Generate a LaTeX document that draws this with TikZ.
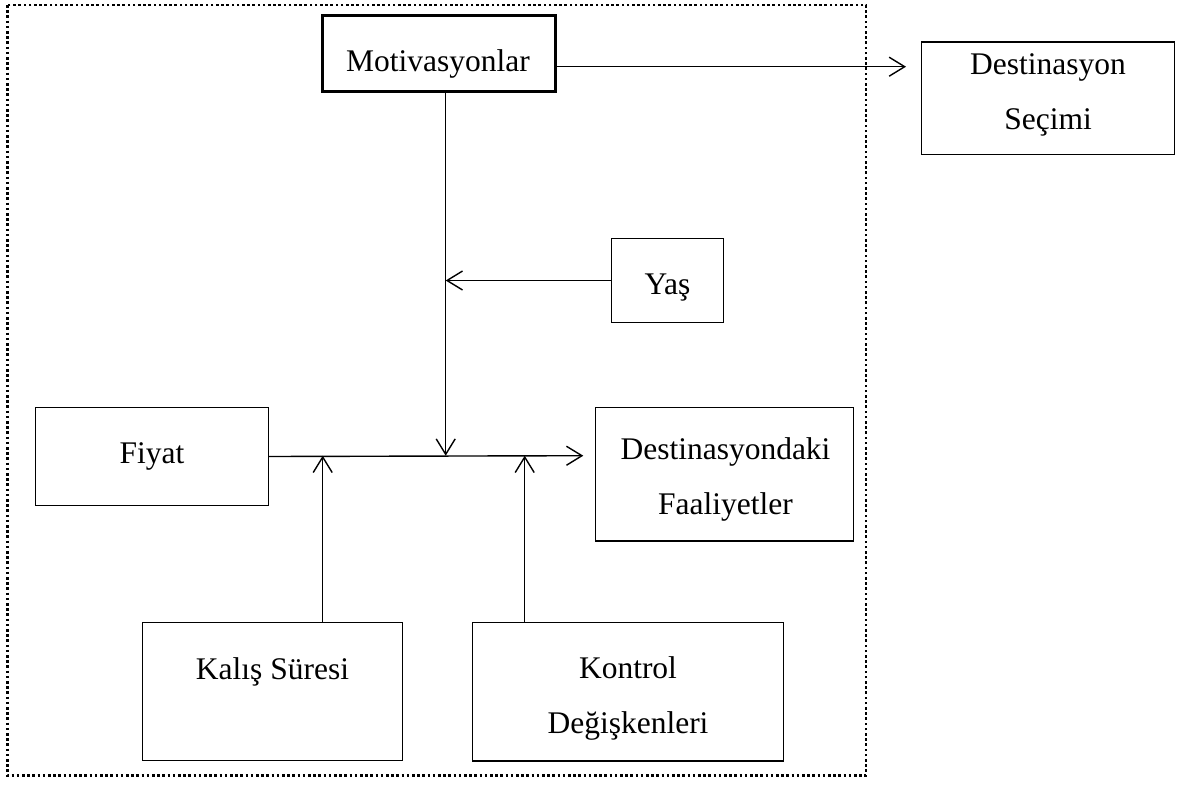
\documentclass[tikz,border=0pt]{standalone}
\usepackage{fontspec}
\setmainfont{Liberation Serif}
\usetikzlibrary{arrows.meta}
\tikzset{
  box/.style={draw, line width=1.4pt, inner sep=0pt, outer sep=0pt, rectangle},
  thickbox/.style={box, line width=2.6pt},
  lbl/.style={anchor=base, inner sep=0pt, align=center, font=\fontsize{31.5}{54.5}\selectfont},
  arr/.style={line width=1.4pt, -{Straight Barb[length=15.5pt, width=19pt, line width=1.4pt]}},
  frame/.style={line width=2.6pt, dash pattern=on 2.6pt off 2.6pt}
}
\begin{document}
\begin{tikzpicture}[x=1pt, y=-1pt]
\useasboundingbox (0,0) rectangle (1187,785);
% dotted frame
\draw[frame] (7.3,5) rectangle (866,775.5);
% boxes
\node[thickbox, minimum width=233.4pt, minimum height=76pt] (mot) at (439,53.7) {};
\node[box, minimum width=253pt, minimum height=112.3pt] (sec) at (1047.8,98.15) {};
\node[box, minimum width=111.6pt, minimum height=84.4pt] (yas) at (667.5,280.5) {};
\node[box, minimum width=232.6pt, minimum height=98.4pt] (fiy) at (152,456.5) {};
\node[box, minimum width=257.6pt, minimum height=133.7pt] (des) at (724.5,474.15) {};
\node[box, minimum width=260.4pt, minimum height=138.4pt] (kal) at (272.5,691.5) {};
\node[box, minimum width=310.6pt, minimum height=138.3pt] (kon) at (628,691.85) {};
% labels (base anchor = baseline of the last line)
\node[lbl] (motT) at (438,71.7) {Motivasyonlar};
\node[lbl] (secT) at (1048,129) {Destinasyon\\Seçimi};
\node[lbl] (yasT) at (667.5,294) {Yaş};
\node[lbl] (fiyT) at (152,463) {Fiyat};
\node[lbl] (desT) at (725.5,514) {Destinasyondaki\\Faaliyetler};
\node[lbl] (kalT) at (272.5,679) {Kalış Süresi};
\node[lbl] (konT) at (628,733) {Kontrol\\Değişkenleri};
% connector points
\coordinate (p1) at (906,66.7);
\coordinate (j) at (445.7,455.7);
\coordinate (tip) at (583.3,455.7);
\coordinate (ka) at (322.7,455.7);
\coordinate (ko) at (524.7,455.7);
% connectors
\draw[arr] (mot.east |- p1) -- (p1);
\draw[arr] (mot.south -| j) -- (j);
\draw[arr] (yas.west) -- (yas.west -| j);
\draw[arr] (fiy.east) -- (tip);
\draw[arr] (kal.north -| ka) -- (ka);
\draw[arr] (kon.north -| ko) -- (ko);
\end{tikzpicture}
\end{document}
